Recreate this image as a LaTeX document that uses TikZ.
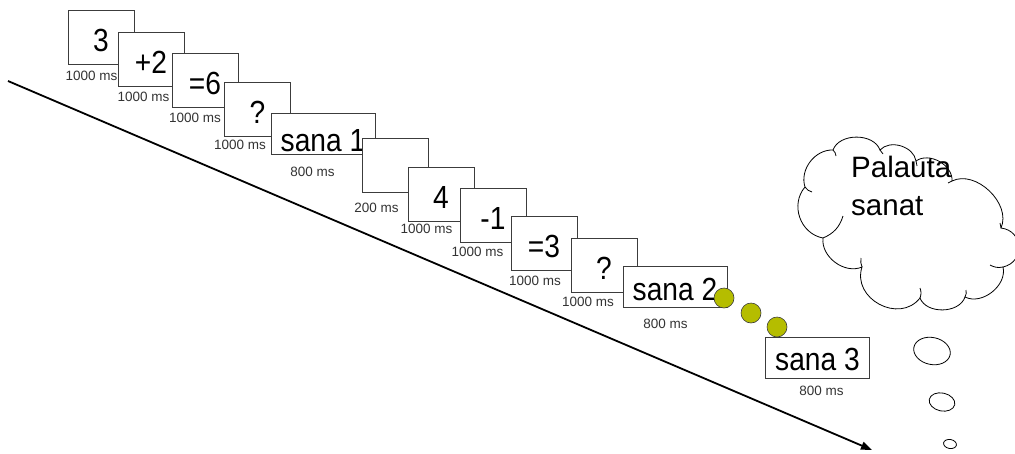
\documentclass[tikz,border=0pt]{standalone}
\usepackage{fontspec}
\setmainfont{Liberation Sans}
\newfontfamily\boxfont[FakeStretch=0.88]{Liberation Sans}
\usetikzlibrary{arrows.meta,shapes.geometric}
\definecolor{dotgreen}{RGB}{181,189,0}
\definecolor{edge}{RGB}{60,60,60}
\tikzset{
  frame/.style={draw=edge, line width=0.8pt, fill=white, inner sep=0pt,
    font=\boxfont\fontsize{32}{33}\selectfont, text height=28pt, text depth=0pt},
  sq/.style={frame, minimum width=66pt, minimum height=54pt},
  wide/.style={frame, minimum width=104pt, minimum height=41pt},
  dur/.style={inner sep=0pt, font=\fontsize{13.5}{14}\selectfont, text=black!80},
  dot/.style={circle, draw=edge, line width=0.6pt, fill=dotgreen, minimum size=20pt, inner sep=0pt},
  timeline/.style={line width=1.8pt, -{Triangle[length=11pt,width=8pt]}},
  cloudline/.style={line width=0.8pt, draw=black},
  bubble/.style={ellipse, draw=black, line width=0.8pt, inner sep=0pt}
}
\begin{document}
\begin{tikzpicture}[x=1pt,y=1pt]
\useasboundingbox (0,0) rectangle (1015,-453);

% time axis
\coordinate (tstart) at (8,-81);
\coordinate (tend) at (872,-450);
\draw[timeline] (tstart) -- (tend);

% first trial
\node[sq] (b1) at (101,-37) {3};
\node[dur] (d1) at (91.5,-76) {1000 ms};
\node[sq] (b2) at (151,-59.5) {+2};
\node[dur] (d2) at (143.5,-97) {1000 ms};
\node[sq] (b3) at (205,-80) {=6};
\node[dur] (d3) at (195,-118) {1000 ms};
\node[sq] (b4) at (257.5,-109) {?};
\node[dur] (d4) at (240,-145) {1000 ms};
\node[wide, text height=36pt] (w1) at (323,-133.5) {sana 1};
\node[dur] (d5) at (312.5,-172) {800 ms};

% blank interval
\node[sq] (gap) at (395.5,-165) {};
\node[dur] (d6) at (376.5,-208) {200 ms};

% second trial
\node[sq] (b5) at (441,-194) {4};
\node[dur] (d7) at (426.5,-229) {1000 ms};
\node[sq] (b6) at (493,-215) {-1};
\node[dur] (d8) at (477.5,-252) {1000 ms};
\node[sq] (b7) at (544,-243) {=3};
\node[dur] (d9) at (535,-281) {1000 ms};
\node[sq] (b8) at (604,-265) {?};
\node[dur] (d10) at (588,-302) {1000 ms};
\node[wide] (w2) at (675,-286.5) {sana 2};
\node[dur] (d11) at (665.5,-324) {800 ms};

% continuation dots
\node[dot] (c1) at (724,-298) {};
\node[dot] (c2) at (751,-313) {};
\node[dot] (c3) at (777,-327) {};

% last word
\node[wide, text height=25pt] (w3) at (817.5,-358) {sana 3};
\node[dur] (d12) at (821.5,-391) {800 ms};

% thought cloud
\draw[cloudline] (805,-187) to[bend left=55] (833,-150)
  to[bend left=70] (880,-150)
  to[bend left=65] (916,-161)
  to[bend left=65] (952,-181)
  to[bend left=70] (1001,-228)
  to[bend left=80, looseness=1.5] (1003,-267)
  to[bend left=65] (965,-297)
  to[bend left=70] (920,-298)
  to[bend left=80, looseness=1.3] (862,-267)
  to[bend left=60] (823,-238)
  to[bend left=60, looseness=1.1] (805,-187);
% inner puff seams
\draw[cloudline] (805,-187) to[bend right=20] (812,-192);
\draw[cloudline] (833,-150) to[bend left=20] (836,-156);
\draw[cloudline] (880,-150) to[bend right=20] (883,-154);
\draw[cloudline] (916,-161) to[bend right=20] (917,-166);
\draw[cloudline] (952,-181) to[bend left=20] (948,-183);
\draw[cloudline] (1001,-228) to[bend right=20] (1000,-223);
\draw[cloudline] (1003,-267) to[bend left=20] (990,-265);
\draw[cloudline] (965,-297) to[bend right=20] (966,-290);
\draw[cloudline] (920,-298) to[bend right=20] (920,-288);
\draw[cloudline] (862,-267) to[bend left=15] (861,-258);
\draw[cloudline] (823,-238) to[bend right=25] (843,-216);
\node[anchor=base west, align=left, inner sep=0pt,
  font=\fontsize{29.5}{38}\selectfont] (thought) at (851,-215) {Palauta\\sanat};

% thought bubbles
\node[bubble, minimum width=37pt, minimum height=27pt, rotate=-12] (e1) at (932,-351) {};
\node[bubble, minimum width=26pt, minimum height=18pt, rotate=-12] (e2) at (942,-402) {};
\node[bubble, minimum width=13pt, minimum height=9pt, rotate=-10] (e3) at (950,-444) {};
\end{tikzpicture}
\end{document}
